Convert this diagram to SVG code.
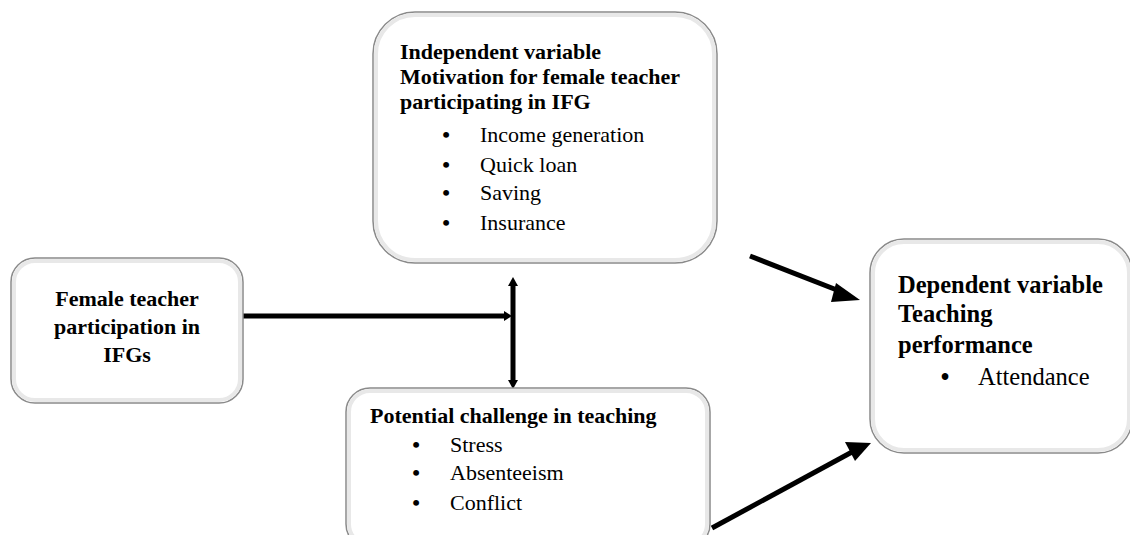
<svg xmlns="http://www.w3.org/2000/svg" width="1130" height="535" viewBox="0 0 1130 535">
<style>
.box{fill:#fff;stroke:#8a8a8a;stroke-width:1.5}
.inner{fill:none;stroke:#e8e8e8;stroke-width:4}
.h{font-family:"Liberation Serif",serif;font-weight:bold;font-size:22px;fill:#000}
.t{font-family:"Liberation Serif",serif;font-size:22px;fill:#000}
.b{font-family:"Liberation Serif",serif;font-size:22px;font-weight:bold;fill:#000;text-anchor:middle}
.hr{font-family:"Liberation Serif",serif;font-weight:bold;font-size:24.5px;fill:#000}
.tr{font-family:"Liberation Serif",serif;font-size:24.5px;fill:#000}
.line{stroke:#000;stroke-width:5;fill:none}
</style>
<rect width="1130" height="535" fill="#fff"/>
<g id="connectors">
<line class="line" x1="243" y1="316" x2="506" y2="316"/>
<path d="M504,311 L512,316 L504,321 z" fill="#000"/>
<line class="line" x1="513" y1="284" x2="513" y2="382"/>
<path d="M508,286 L513,277 L518,286 z" fill="#000"/>
<path d="M508,380 L513,389 L518,380 z" fill="#000"/>
<line class="line" x1="750" y1="256" x2="842" y2="292"/>
<path d="M836,283 L860,300 L831,302 z" fill="#000"/>
<line class="line" x1="712" y1="528" x2="852" y2="452"/>
<path d="M845,442 L871,443 L855,461 z" fill="#000"/>
</g>
<g id="node-independent">
<rect class="box" x="373" y="12" width="344" height="251" rx="42"/>
<rect class="inner" x="376" y="15" width="338" height="245" rx="39"/>
<text class="h" x="400" y="59">Independent variable</text>
<text class="h" x="400" y="84">Motivation for female teacher</text>
<text class="h" x="400" y="109">participating in IFG</text>
<text class="b" x="446" y="142">•</text><text class="t" x="480" y="142">Income generation</text>
<text class="b" x="446" y="172">•</text><text class="t" x="480" y="172">Quick loan</text>
<text class="b" x="446" y="200">•</text><text class="t" x="480" y="200">Saving</text>
<text class="b" x="446" y="230">•</text><text class="t" x="480" y="230">Insurance</text>
</g>
<g id="node-participation">
<rect class="box" x="11" y="258" width="232" height="145" rx="24"/>
<rect class="inner" x="14" y="261" width="226" height="139" rx="21"/>
<text class="h" x="127" y="306" text-anchor="middle">Female teacher</text>
<text class="h" x="127" y="334" text-anchor="middle">participation in</text>
<text class="h" x="127" y="362" text-anchor="middle">IFGs</text>
</g>
<g id="node-challenge">
<rect class="box" x="346" y="388" width="364" height="160" rx="24"/>
<rect class="inner" x="349" y="391" width="358" height="154" rx="21"/>
<text class="h" x="370" y="423">Potential challenge in teaching</text>
<text class="b" x="416" y="452">•</text><text class="t" x="450" y="452">Stress</text>
<text class="b" x="416" y="480">•</text><text class="t" x="450" y="480">Absenteeism</text>
<text class="b" x="416" y="510">•</text><text class="t" x="450" y="510">Conflict</text>
</g>
<g id="node-dependent">
<rect class="box" x="870" y="239" width="262" height="214" rx="34"/>
<rect class="inner" x="873" y="242" width="256" height="208" rx="31"/>
<text class="hr" x="898" y="293">Dependent variable</text>
<text class="hr" x="898" y="322">Teaching</text>
<text class="hr" x="898" y="353">performance</text>
<text class="b" x="945" y="385" style="font-size:24.5px">•</text><text class="tr" x="978" y="385">Attendance</text>
</g>
</svg>
